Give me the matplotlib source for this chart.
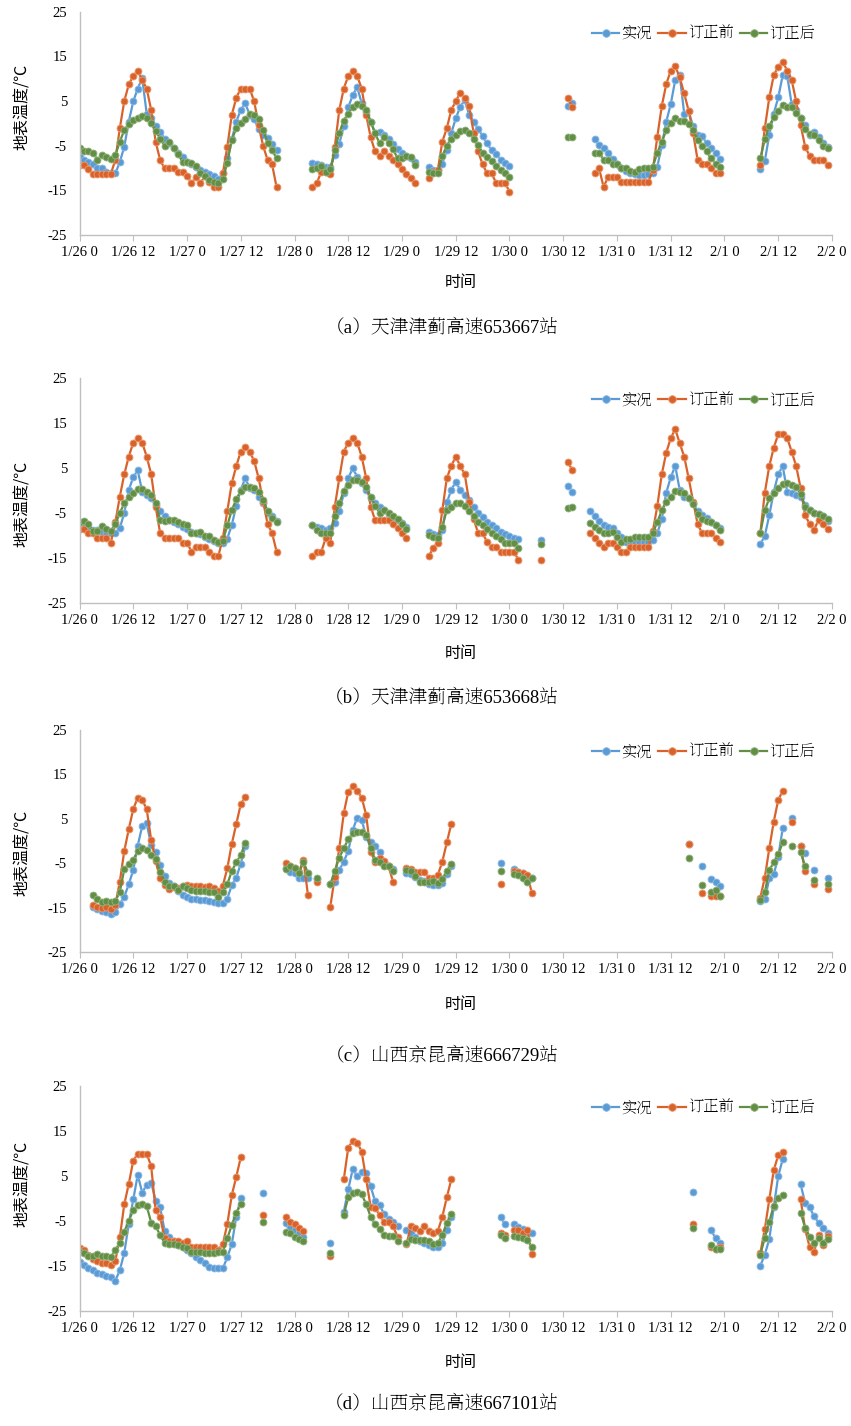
import numpy as np
import matplotlib
matplotlib.use('Agg')
import matplotlib.pyplot as plt

plt.rcParams['font.family'] = ['Liberation Serif', 'Noto Sans CJK SC']
plt.rcParams['axes.unicode_minus'] = False

# hourly time axis, 1/26 00h .. 2/1 23h
HOURS = np.arange(168)
tick_hours = np.arange(0, 169, 12)
tick_labels = ['1/26 0', '1/26 12', '1/27 0', '1/27 12', '1/28 0', '1/28 12', '1/29 0',
               '1/29 12', '1/30 0', '1/30 12', '1/31 0', '1/31 12', '2/1 0', '2/1 12', '2/2 0']
series_names = ['实况', '订正前', '订正后']

# each series: {start hour: consecutive hourly values}; hours not listed are missing
# (a) 653667
a_obs = {0: [-7.5, -8.2, -8.7, -9.2, -10.1, -10.1, -10.8, -11.2, -11.2, -8.7, -5.2, 0.4, 4.9, 7.8, 10.1, 2.2, 1.1, -0.7, -1.9, -3.4, -4.5, -5.6, -6.6, -7.6, -8.6, -9.0, -9.7, -10.4, -10.8, -11.3, -11.9, -12.5, -11.2, -7.8, -3.6, 0.4, 3.0, 4.5, 1.9, 1.0, -1.3, -2.6, -3.3, -4.7, -6.0],
         52: [-8.8, -9.0, -9.3, -9.7, -9.7, -7.1, -4.6, -0.6, 3.6, 6.3, 8.1, 4.5, 2.6, 0.4, -2.2, -1.9, -2.6, -3.6, -4.7, -5.8, -6.7, -7.3, -7.8, -8.6],
         78: [-9.7, -10.4, -10.4, -9.0, -6.0, -2.2, 1.1, 3.7, 5.2, 1.9, 0.4, -1.3, -2.8, -4.5, -6.0, -6.9, -8.1, -8.8, -9.5],
         109: [3.9, 4.6],
         115: [-3.4, -4.9, -5.6, -6.6, -8.0, -9.1, -9.9, -10.6, -11.2, -11.4, -11.6, -11.6, -11.4, -11.2, -9.7, -4.9, 0.4, 4.3, 9.7, 10.8, 2.2, 2.7, -0.7, -2.5, -2.8, -4.5, -5.6, -6.7, -8.0],
         152: [-10.3, -8.4, -2.6, 2.2, 5.8, 10.8, 10.6, 4.3, 3.0, 1.1, -0.4, -2.6, -1.9, -3.1, -4.5, -5.2]}
a_raw = {0: [-9.3, -9.3, -10.3, -11.3, -11.3, -11.3, -11.3, -11.3, -8.2, -1.1, 5.0, 8.7, 10.6, 11.8, 9.7, 7.8, 3.0, -4.1, -8.2, -10.1, -10.1, -10.1, -11.0, -11.0, -11.9, -13.3, -12.1, -13.3, -11.9, -13.1, -14.2, -14.3, -11.2, -5.2, 1.9, 5.7, 7.8, 7.8, 7.8, 4.9, -0.4, -5.1, -8.2, -9.2, -14.3],
         52: [-14.3, -13.3, -10.8, -11.0, -11.3, -5.2, 3.0, 7.8, 10.6, 11.8, 10.6, 7.8, 1.9, -3.1, -6.3, -7.2, -6.1, -7.2, -8.2, -9.2, -10.3, -11.3, -12.3, -13.3],
         78: [-12.3, -10.8, -10.4, -4.1, -1.1, 3.0, 4.9, 6.9, 5.7, 3.9, -2.2, -6.3, -9.2, -11.2, -11.2, -13.3, -13.3, -13.3, -15.3],
         109: [5.7, 3.7],
         115: [-11.2, -10.1, -14.2, -12.1, -12.1, -12.1, -13.1, -13.1, -13.1, -13.1, -13.1, -13.1, -13.1, -10.5, -3.0, 3.9, 8.8, 11.8, 12.8, 10.3, 6.7, 2.8, -2.2, -8.2, -9.1, -9.1, -10.1, -11.2, -11.2],
         152: [-9.3, -1.1, 5.8, 10.8, 12.7, 13.8, 11.8, 9.7, 4.9, -0.4, -5.2, -7.3, -8.2, -8.2, -8.2, -9.3]}
a_fix = {0: [-5.6, -6.3, -6.1, -6.6, -8.1, -7.1, -7.5, -8.0, -7.1, -4.1, -1.5, -0.1, 0.7, 1.1, 1.7, 1.1, 0.1, -1.7, -3.4, -5.0, -4.1, -5.6, -6.9, -8.6, -8.6, -8.8, -9.5, -11.2, -11.8, -12.7, -13.2, -13.4, -12.5, -8.8, -3.7, -1.1, 0.0, 1.0, 2.0, 1.9, 1.0, -1.5, -4.3, -6.0, -7.8],
         52: [-10.3, -9.9, -9.5, -10.8, -10.3, -6.0, -2.1, 0.6, 2.2, 3.6, 4.3, 3.9, 3.1, 0.4, -2.2, -4.5, -3.0, -4.3, -5.8, -7.8, -7.8, -7.3, -7.6, -9.3],
         78: [-10.8, -11.2, -11.2, -7.3, -5.1, -3.4, -2.6, -1.7, -1.5, -2.1, -3.6, -4.9, -6.6, -7.5, -8.4, -9.5, -10.4, -11.2, -12.1],
         109: [-3.1, -3.1],
         115: [-6.6, -6.6, -8.1, -8.1, -9.1, -9.1, -9.9, -10.1, -10.6, -10.8, -10.3, -10.1, -10.1, -9.7, -6.6, -4.1, -1.6, 0.0, 1.3, 0.6, 0.6, -0.1, -1.5, -3.7, -5.0, -6.3, -7.8, -9.0, -9.7],
         152: [-7.8, -3.6, -0.7, 1.5, 2.8, 4.1, 3.7, 3.7, 2.4, 1.1, -1.3, -2.4, -2.6, -3.7, -5.1, -5.6]}

# (b) 653668
b_obs = {0: [-7.6, -7.6, -8.3, -8.7, -8.7, -9.1, -9.4, -9.4, -9.4, -8.3, -4.9, 0.2, 3.0, 4.6, -0.2, -0.9, -1.7, -3.1, -4.6, -5.7, -6.5, -7.0, -7.4, -8.0, -8.5, -9.1, -9.3, -9.6, -10.2, -10.7, -11.1, -11.5, -11.7, -10.6, -7.6, -3.3, 0.2, 2.8, 0.6, 0.2, -1.3, -2.8, -5.0, -5.7, -6.7],
         52: [-7.6, -8.0, -8.3, -8.7, -8.3, -7.1, -4.6, -0.6, 2.8, 5.0, 3.1, 1.7, 0.2, -1.7, -2.8, -3.5, -4.3, -5.1, -5.9, -6.5, -7.2, -8.0],
         78: [-9.1, -9.6, -9.8, -8.7, -2.6, 0.2, 2.0, 0.2, -0.9, -2.0, -3.5, -5.0, -5.9, -6.9, -7.6, -8.3, -9.1, -9.6, -10.0, -10.4, -10.6],
         103: [-10.9],
         109: [1.1, -0.2],
         114: [-4.5, -5.6, -6.7, -7.6, -8.0, -8.3, -9.3, -10.2, -11.3, -11.3, -11.3, -11.3, -11.3, -11.3, -10.9, -9.4, -6.3, -0.4, 3.0, 5.5, 0.2, -1.3, -1.7, -2.8, -4.6, -5.4, -6.1, -7.0, -7.7, -8.3],
         152: [-11.9, -10.0, -5.4, -0.2, 3.7, 5.5, -0.2, -0.6, -0.9, -1.3, -3.1, -4.3, -4.9, -5.1, -5.7, -6.6]}
b_raw = {0: [-8.5, -8.5, -9.4, -9.4, -10.4, -10.4, -10.4, -11.5, -7.0, -1.3, 3.7, 7.6, 10.7, 11.7, 10.7, 7.6, 3.7, -3.5, -9.4, -10.4, -10.4, -10.4, -10.4, -11.5, -11.5, -13.5, -12.4, -12.4, -12.4, -13.5, -14.5, -14.5, -10.5, -4.5, 1.7, 5.5, 8.7, 9.7, 8.7, 6.6, 2.8, -2.4, -7.4, -9.4, -13.5],
         52: [-14.5, -13.5, -13.5, -10.4, -11.5, -3.5, 2.8, 8.7, 10.7, 11.7, 10.7, 7.6, 2.8, -3.5, -6.5, -6.5, -6.5, -6.5, -7.4, -8.3, -9.4, -10.4],
         78: [-14.5, -12.6, -11.5, -4.3, 2.8, 5.5, 7.6, 5.5, 3.7, -2.4, -6.3, -9.4, -9.4, -11.4, -12.4, -12.4, -13.5, -13.5, -13.5, -13.5, -15.4],
         103: [-15.4],
         109: [6.5, 4.6],
         114: [-9.4, -10.4, -11.5, -12.4, -11.5, -11.5, -12.4, -13.5, -13.5, -12.4, -12.4, -12.4, -12.4, -12.4, -9.0, -3.4, 3.7, 8.5, 11.7, 13.7, 10.6, 7.6, 2.8, -2.4, -7.4, -9.4, -9.4, -9.4, -10.4, -11.4],
         152: [-9.4, -0.4, 5.5, 9.6, 12.6, 12.6, 11.7, 8.7, 5.5, 0.6, -5.4, -7.4, -8.6, -6.5, -7.4, -8.5]}
b_fix = {0: [-6.9, -6.7, -7.4, -8.9, -8.9, -7.8, -8.5, -8.9, -7.4, -4.9, -2.8, -1.3, -0.4, 0.3, 0.3, -0.2, -0.9, -2.8, -6.5, -6.6, -6.5, -6.5, -6.9, -7.4, -7.7, -9.3, -9.3, -9.1, -10.0, -10.0, -10.9, -11.3, -11.1, -7.7, -4.3, -1.9, 0.0, 0.9, 0.9, 0.7, -0.2, -2.0, -4.5, -6.1, -7.0],
         52: [-7.6, -8.7, -9.3, -9.3, -9.3, -5.7, -2.8, 0.0, 1.3, 2.3, 2.4, 2.0, 0.9, -1.3, -3.3, -4.9, -4.3, -5.0, -5.6, -6.3, -7.4, -8.5],
         78: [-9.8, -10.2, -10.4, -8.0, -4.3, -3.5, -2.8, -2.8, -3.3, -4.6, -5.5, -7.0, -7.7, -8.5, -9.4, -10.0, -10.6, -11.7, -11.7, -11.7, -12.6],
         103: [-11.8],
         109: [-3.9, -3.5],
         114: [-7.2, -8.0, -8.7, -9.4, -9.4, -9.2, -10.2, -11.3, -10.6, -10.7, -10.2, -10.2, -10.2, -10.3, -9.3, -7.0, -4.3, -2.4, -1.3, 0.0, -0.3, -0.4, -1.5, -2.9, -5.1, -6.3, -6.6, -7.0, -7.7, -8.6],
         152: [-9.4, -4.3, -1.7, -0.4, 0.7, 1.5, 1.7, 1.3, 0.9, -0.7, -3.5, -4.3, -4.9, -5.1, -5.7, -6.3]}

# (c) 666729
c_obs = {3: [-14.7, -15.3, -15.7, -16.0, -16.4, -16.0, -14.2, -12.5, -9.7, -6.5, -1.0, 3.4, 4.0, -0.9, -2.4, -5.4, -7.8, -9.5, -10.1, -11.2, -12.0, -12.5, -12.9, -13.1, -13.2, -13.2, -13.4, -13.6, -13.8, -13.8, -12.9, -9.9, -8.2, -5.1, -1.2],
         46: [-6.1, -6.9, -7.2, -8.4, -8.4, -8.4],
         53: [-8.6],
         56: [-9.7, -9.3, -6.5, -4.6, -2.2, 2.5, 5.3, 4.8, 1.0, -0.1, -1.1, -2.4, -4.6, -5.5, -6.3],
         73: [-7.2, -7.4, -8.0, -8.8, -9.0, -9.6, -9.8, -9.9, -9.5, -7.5, -5.7],
         94: [-5.0],
         97: [-6.3, -6.9, -7.2, -8.0, -8.4],
         136: [-0.7], 139: [-5.7],
         141: [-8.6, -9.3, -10.0],
         152: [-13.5, -13.1, -8.4, -7.5, -3.5, 2.9],
         159: [5.3], 161: [-1.1, -2.6], 164: [-6.5], 167: [-8.4]}
c_raw = {3: [-14.4, -14.7, -15.0, -14.7, -15.3, -14.4, -9.1, -2.2, 2.7, 7.2, 9.8, 9.3, 7.2, 0.3, -4.5, -8.4, -9.9, -10.8, -10.3, -10.5, -10.0, -9.8, -10.0, -10.1, -10.0, -10.3, -10.0, -10.6, -11.3, -10.0, -6.1, -0.6, 3.9, 8.3, 9.9],
         46: [-5.0, -5.7, -6.1, -6.9, -4.2, -12.1],
         53: [-9.1],
         56: [-14.7, -8.0, -1.6, 6.3, 11.1, 12.3, 11.3, 9.8, 5.9, -2.4, -4.6, -3.9, -4.5, -5.7, -9.1],
         73: [-6.0, -6.3, -7.0, -6.9, -6.9, -8.2, -8.2, -7.6, -4.6, -0.3, 3.9],
         94: [-9.7],
         97: [-6.7, -7.0, -7.2, -7.6, -11.7],
         136: [-0.7], 139: [-11.7],
         141: [-12.3, -12.3, -12.3],
         152: [-12.7, -8.2, -1.6, 4.4, 9.3, 11.3],
         159: [4.4], 161: [-1.2, -6.7], 164: [-9.7], 167: [-10.8]}
c_fix = {3: [-12.1, -13.1, -13.6, -13.5, -13.6, -13.5, -11.4, -6.3, -5.2, -4.2, -2.2, -1.5, -2.0, -3.1, -4.0, -6.9, -9.1, -10.1, -10.1, -11.0, -10.2, -10.6, -11.0, -11.1, -11.1, -11.1, -11.4, -11.5, -12.5, -11.4, -9.7, -6.7, -4.8, -3.1, -0.5],
         46: [-6.3, -5.5, -6.0, -7.2, -4.6, -7.2],
         53: [-8.2],
         56: [-9.7, -6.7, -3.7, -1.6, 0.4, 1.8, 2.0, 2.1, 1.4, -1.5, -4.2, -4.6, -5.5, -5.7, -6.7],
         73: [-6.5, -6.7, -7.8, -9.1, -9.3, -9.1, -9.0, -9.5, -8.6, -6.7, -5.2],
         94: [-6.7],
         97: [-7.5, -7.6, -8.2, -9.1, -8.4],
         136: [-3.7], 139: [-9.9],
         141: [-11.4, -11.0, -12.3],
         152: [-13.2, -11.5, -6.5, -4.8, -3.0, -0.3],
         159: [-1.0], 161: [-2.5, -5.7], 164: [-8.7], 167: [-9.7]}

# (d) 667101
d_obs = {0: [-14.1, -14.8, -15.4, -16.0, -16.5, -16.8, -17.2, -17.6, -18.3, -16.0, -12.1, -5.7, -0.2, 5.2, 1.3, 3.0, 3.5, -0.5, -2.0, -7.2, -8.7, -9.6, -10.4, -10.8, -11.5, -12.2, -13.0, -13.7, -14.3, -15.2, -15.4, -15.6, -15.6, -13.1, -10.2, -4.1, 0.0],
         41: [1.1],
         46: [-5.4, -6.3, -7.0, -7.8, -8.5],
         56: [-10.0],
         59: [-3.0, 2.0, 6.5, 5.0, 5.9, 5.6, 2.7, -0.7, -1.5, -3.5, -4.5, -5.2, -6.2],
         73: [-7.0, -7.8, -8.5, -9.6, -10.0, -10.4, -10.8, -10.9, -9.9, -7.0, -4.1],
         94: [-4.2, -5.7],
         97: [-5.6, -6.3, -6.9, -7.4, -7.8],
         137: [1.5],
         141: [-7.0, -8.9, -10.0],
         152: [-15.0, -12.5, -9.1, -1.9, 5.0, 8.7],
         161: [3.1, -1.0, -2.0, -4.0, -5.4, -6.5, -7.6]}
d_raw = {0: [-11.1, -11.6, -12.6, -13.6, -13.9, -14.3, -14.3, -14.8, -13.9, -8.7, -1.3, 3.2, 8.4, 9.9, 9.9, 9.9, 7.2, -2.7, -4.1, -8.9, -9.4, -9.6, -9.6, -10.0, -9.6, -10.8, -10.8, -10.8, -10.8, -10.8, -10.8, -11.4, -10.2, -5.7, 0.7, 4.8, 9.1],
         41: [-3.7],
         46: [-4.1, -5.2, -5.7, -6.7, -7.3],
         56: [-12.8],
         59: [4.2, 11.3, 12.8, 12.4, 10.4, 4.2, -1.9, -2.2, -3.7, -5.2, -5.2, -6.2, -8.5],
         73: [-10.2, -6.2, -6.5, -7.3, -6.2, -7.3, -7.8, -7.3, -4.1, 0.2, 4.2],
         94: [-7.6, -8.2],
         97: [-7.0, -7.0, -7.6, -7.0, -12.3],
         137: [-5.7],
         141: [-10.8, -11.2, -10.8],
         152: [-12.2, -6.8, -0.2, 6.3, 9.6, 10.4],
         161: [-0.2, -6.9, -10.8, -11.9, -8.2, -10.4, -8.3]}
d_fix = {0: [-11.9, -12.2, -12.8, -12.8, -12.4, -12.8, -12.8, -13.1, -11.5, -9.9, -7.4, -5.0, -2.6, -1.5, -1.3, -1.7, -5.4, -6.1, -8.2, -9.9, -10.2, -10.2, -10.4, -10.8, -11.1, -11.9, -11.9, -11.9, -12.1, -12.2, -12.1, -11.9, -11.9, -8.9, -5.9, -3.2, -1.3],
         41: [-5.2],
         46: [-7.4, -7.8, -8.5, -9.1, -9.4],
         56: [-12.1],
         59: [-3.6, 0.2, 1.1, 1.5, 0.9, -1.3, -4.1, -5.7, -6.9, -8.2, -8.4, -8.4, -9.5],
         73: [-10.0, -9.1, -9.2, -9.3, -9.3, -9.6, -10.2, -9.9, -8.2, -5.4, -3.5],
         94: [-8.2, -8.9],
         97: [-8.4, -8.5, -8.9, -9.3, -10.9],
         137: [-6.5],
         141: [-10.4, -11.3, -11.3],
         152: [-12.5, -8.8, -5.2, -1.6, 0.1, 0.7],
         161: [-3.2, -6.5, -8.5, -9.9, -8.9, -9.9, -9.1]}

captions = ['（a）天津津蓟高速653667站', '（b）天津津蓟高速653668站',
            '（c）山西京昆高速666729站', '（d）山西京昆高速667101站']


def to_hourly(segments):
    y = np.full(len(HOURS), np.nan)
    for start, vals in segments.items():
        y[start:start + len(vals)] = vals
    return y


W, H = 851, 1426
colors = ['#5B9BD5', '#D9622B', '#628E45']
edge_colors = ['#8DBBE6', '#EC9A6E', '#93B57E']
axis_grey = '#BFBFBF'
cjk_sans = ['Noto Sans CJK SC']
cjk_serif = ['Noto Serif SC', 'Noto Sans CJK SC']
serif = ['Liberation Serif']

# pixel layout of each panel: (axes top, axes bottom, ylabel centre y, xlabel y, caption y)
layout = [(11.7, 235.0, 107, 283, 327),
          (378.3, 603.3, 504, 653, 697),
          (730.0, 952.3, 853, 1005, 1055),
          (1086.0, 1310.7, 1184, 1363, 1403)]
left_px, right_px = 79.5, 832.0

fig = plt.figure(figsize=(W / 100, H / 100), dpi=100)

panel_data = [(a_obs, a_raw, a_fix), (b_obs, b_raw, b_fix),
              (c_obs, c_raw, c_fix), (d_obs, d_raw, d_fix)]

for (top, bottom, ylab_y, xlab_y, cap_y), series, caption in zip(layout, panel_data, captions):
    ax = fig.add_axes([left_px / W, 1 - bottom / H, (right_px - left_px) / W, (bottom - top) / H])
    for segs, name, col, ecol in zip(series, series_names, colors, edge_colors):
        ax.plot(HOURS, to_hourly(segs), '-o', color=col, lw=1.6, ms=5.0,
                mfc=col, mec=ecol, mew=0.6, label=name)

    ax.set_xlim(0, 168)
    ax.set_ylim(-25, 25)
    ax.set_yticks([-25, -15, -5, 5, 15, 25])
    ax.set_xticks(tick_hours)
    ax.set_xticklabels(tick_labels)
    for lab in ax.get_xticklabels() + ax.get_yticklabels():
        lab.set_fontfamily(serif)
    for side in ['top', 'right']:
        ax.spines[side].set_visible(False)
    for side in ['left', 'bottom']:
        ax.spines[side].set_color(axis_grey)
        ax.spines[side].set_linewidth(1.0)
    ax.tick_params(axis='x', length=4, color=axis_grey, pad=4, labelsize=10.5)
    ax.tick_params(axis='y', length=0, pad=9, labelsize=10.5)

    ax.legend(loc='center right', bbox_to_anchor=(0.978, 1 - 22 / (bottom - top)),
              ncol=3, frameon=False, prop={'family': cjk_serif, 'size': 11},
              handlelength=1.8, handletextpad=0.15, columnspacing=0.4, borderpad=0,
              borderaxespad=0, markerscale=1.1)

    fig.text(22 / W, 1 - ylab_y / H, '地表温度/℃', rotation=90, ha='center', va='center',
             family=cjk_sans, size=11.5)
    fig.text(461 / W, 1 - xlab_y / H, '时间', ha='center', va='center',
             family=cjk_sans, size=11.5)
    fig.text(442 / W, 1 - cap_y / H, caption, ha='center', va='center',
             family=['Liberation Serif', 'Noto Serif SC'], size=13.5)

fig.savefig('out.png', dpi=100)
